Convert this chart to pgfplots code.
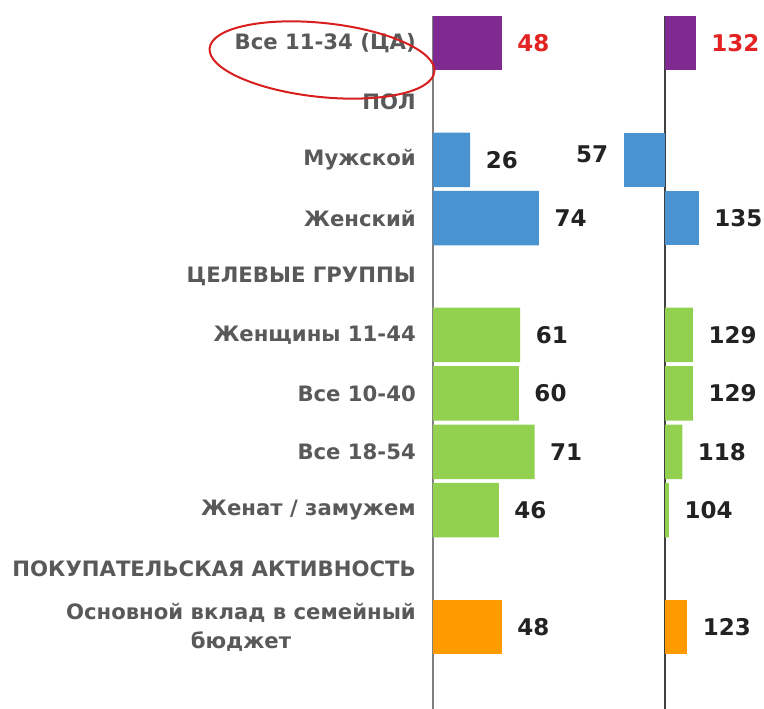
\documentclass[border=0pt]{standalone}
\usepackage{pgfplots}
\pgfplotsset{compat=1.18}
\usepackage{pgfplotstable}
\usepackage{fontspec}
\setmainfont{DejaVu Sans}
\definecolor{cpurple}{HTML}{7E2A91}
\definecolor{cblue}{HTML}{4A93D1}
\definecolor{cgreen}{HTML}{92D050}
\definecolor{corange}{HTML}{FF9A00}
\definecolor{cred}{HTML}{E32222}
\definecolor{clab}{HTML}{595959}
\definecolor{cval}{HTML}{222222}
\definecolor{cellipse}{HTML}{D81E1E}

% right panel tables (index values, baseline 100)
\pgfplotstableread{
row val
0 132
}\rpurple
\pgfplotstableread{
row val
2 57
}\rblueA
\pgfplotstableread{
row val
3 135
}\rblueB
\pgfplotstableread{
row val
5 129
6 129
7 118
8 104
}\rgreen
\pgfplotstableread{
row val
10 123
}\rorange

\pgfplotsset{
  /pgf/number format/assume math mode=true,
  panel/.style={
    scale only axis,
    xbar, bar shift=0pt, bar width=54.5pt,
    y dir=reverse,
    ymin=-0.47, ymax=11.42,
    height=694.4pt,
    axis x line=none,
    major tick length=0pt,
    clip=false,
    nodes near coords,
    every node near coord/.append style={font=\bfseries\fontsize{23}{27}\selectfont, text=cval, inner xsep=15.5pt, inner ysep=0pt, anchor=west},
  },
}

\begin{document}
\begin{tikzpicture}[x=1pt,y=1pt]
\useasboundingbox (0,0) rectangle (764,-709);

% ---------------- left panel (shares, %) ----------------
\begin{axis}[panel,
  at={(433pt,-15.5pt)}, anchor=north west,
  xmin=0, xmax=150, width=214.5pt,
  axis y line*=left,
  y axis line style={draw=black!50, line width=1.3pt},
  ytick={0,1,...,10},
  yticklabels={Все 11-34 (ЦА), ПОЛ, Мужской, Женский, ЦЕЛЕВЫЕ ГРУППЫ, Женщины 11-44, Все 10-40, Все 18-54, Женат / замужем, ПОКУПАТЕЛЬСКАЯ АКТИВНОСТЬ, {Основной вклад в семейный\\бюджет}},
  yticklabel style={font=\bfseries\fontsize{21.2}{29}\selectfont, text=clab, align=center, inner sep=0pt, xshift=-17pt},
  point meta=x,
]
\addplot[fill=cpurple, draw=none, every node near coord/.append style={text=cred}] coordinates {(48,0)};
\addplot[fill=cblue, draw=none] coordinates {(26,2) (74,3)};
\addplot[fill=cgreen, draw=none] coordinates {(61,5) (60,6) (71,7) (46,8)};
\addplot[fill=corange, draw=none] coordinates {(48,10)};
\end{axis}

% ---------------- right panel (index, 100 = baseline) ----------------
\begin{axis}[panel,
  at={(607.4pt,-15.5pt)}, anchor=north west,
  xmin=-60, xmax=60, width=115.2pt,
  axis y line*=center,
  y axis line style={draw=black!75, line width=1.3pt},
  ytick=\empty,
  point meta=explicit,
]
\addplot[fill=cpurple, draw=none, every node near coord/.append style={text=cred}] table[x expr=\thisrow{val}-100, y=row, meta=val] \rpurple;
\addplot[fill=cblue, draw=none, every node near coord/.append style={anchor=east, yshift=5pt}] table[x expr=\thisrow{val}-100, y=row, meta=val] \rblueA;
\addplot[fill=cblue, draw=none] table[x expr=\thisrow{val}-100, y=row, meta=val] \rblueB;
\addplot[fill=cgreen, draw=none] table[x expr=\thisrow{val}-100, y=row, meta=val] \rgreen;
\addplot[fill=corange, draw=none] table[x expr=\thisrow{val}-100, y=row, meta=val] \rorange;
\end{axis}

% hand-drawn highlight around the target audience label
\draw[cellipse, line width=2pt, rotate around={-6:(322,-60)}] (322,-60) ellipse (113 and 37);
\end{tikzpicture}
\end{document}
